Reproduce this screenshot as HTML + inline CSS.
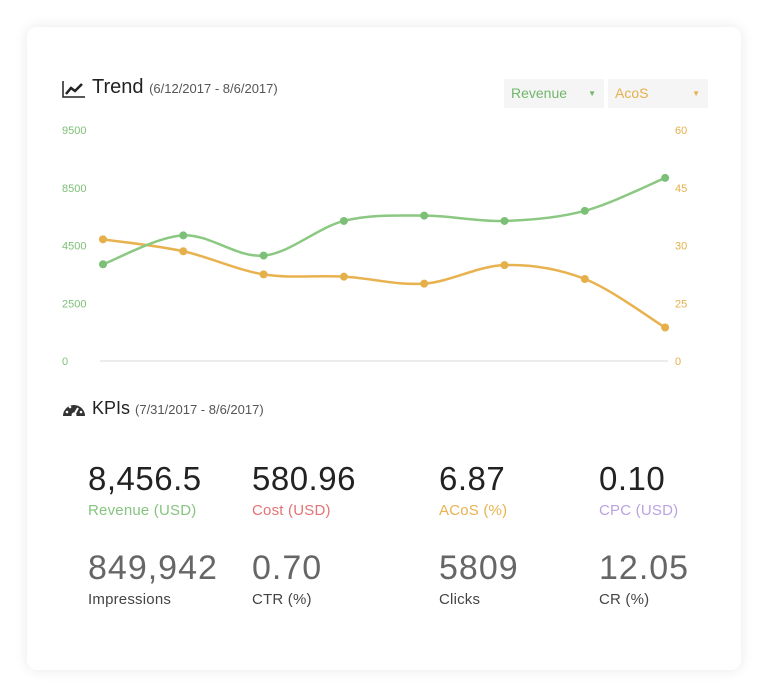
<!DOCTYPE html>
<html><head><meta charset="utf-8"><style>
body{margin:0;width:768px;height:700px;background:#fff;font-family:"Liberation Sans","DejaVu Sans",sans-serif;position:relative;overflow:hidden}
.card{position:absolute;left:27px;top:27px;width:714px;height:643px;background:#fff;border-radius:10px;box-shadow:0 0 14px rgba(0,0,0,0.09)}
.abs{position:absolute;white-space:nowrap}
.dd{position:absolute;top:79px;height:29px;width:100px;background:#f5f5f5;font-size:14px;line-height:29px;box-sizing:border-box;padding-left:7px}
.dd span{position:absolute;right:8px;font-size:8px}
.num{position:absolute;font-size:33px;white-space:nowrap;letter-spacing:0.5px}
.num.r2{font-size:34px;letter-spacing:1px}
.lab{position:absolute;font-size:15px;white-space:nowrap;letter-spacing:0.2px}
</style></head><body>
<div class="card"></div>
<svg class="abs" style="left:62px;top:80px" width="24" height="18"><polyline points="1,1 1,17 23,17" fill="none" stroke="#222" stroke-width="1.5"/><polyline points="4,14 9,8 13,11 20,4" fill="none" stroke="#222" stroke-width="2.5"/></svg>
<div class="abs" style="left:92px;top:76px;font-size:20px;color:#222">Trend <span style="font-size:13px;color:#555">(6/12/2017 - 8/6/2017)</span></div>
<div class="dd" style="left:504px;color:#6fb86a">Revenue<span>▼</span></div>
<div class="dd" style="left:608px;color:#e5b04a">AcoS<span>▼</span></div>
<svg class="abs" style="left:0;top:0" width="768" height="400" id="chart"></svg>
<svg class="abs" style="left:62px;top:400px" width="24" height="18"><path d="M1,16 A11,11 0 0 1 23,16 Z" fill="#333"/><circle cx="12" cy="15" r="2.5" fill="#fff"/><line x1="12" y1="15" x2="16" y2="8" stroke="#fff" stroke-width="2"/><circle cx="5" cy="12" r="1.3" fill="#fff"/><circle cx="8" cy="7" r="1.3" fill="#fff"/><circle cx="19" cy="12" r="1.3" fill="#fff"/></svg>
<div class="abs" style="left:92px;top:398px;font-size:18px;color:#222">KPIs <span style="font-size:13px;color:#555">(7/31/2017 - 8/6/2017)</span></div>
<div class="num" style="left:88px;top:460px;color:#222">8,456.5</div>
<div class="lab" style="left:88px;top:502px;color:#86c47f">Revenue (USD)</div>
<div class="num" style="left:252px;top:460px;color:#222">580.96</div>
<div class="lab" style="left:252px;top:502px;color:#e57373">Cost (USD)</div>
<div class="num" style="left:439px;top:460px;color:#222">6.87</div>
<div class="lab" style="left:439px;top:502px;color:#e8b24f">ACoS (%)</div>
<div class="num" style="left:599px;top:460px;color:#222">0.10</div>
<div class="lab" style="left:599px;top:502px;color:#b9a3e0">CPC (USD)</div>
<div class="num r2" style="left:88px;top:549px;color:#666">849,942</div>
<div class="lab" style="left:88px;top:591px;color:#444">Impressions</div>
<div class="num r2" style="left:252px;top:549px;color:#666">0.70</div>
<div class="lab" style="left:252px;top:591px;color:#444">CTR (%)</div>
<div class="num r2" style="left:439px;top:549px;color:#666">5809</div>
<div class="lab" style="left:439px;top:591px;color:#444">Clicks</div>
<div class="num r2" style="left:599px;top:549px;color:#666">12.05</div>
<div class="lab" style="left:599px;top:591px;color:#444">CR (%)</div>
<script>
const weeks=["6/12","6/19","6/26","7/3","7/10","7/17","7/24","7/31"];
const revenue=[3850,5200,4150,6200,6570,6200,6900,8670];
const acos=[31.6,29.5,27.5,27.3,26.7,28.3,27.1,14.5];
const leftTicks=[0,2500,4500,8500,9500];
const rightTicks=[0,25,30,45,60];
const svg=document.getElementById('chart');
const NS='http://www.w3.org/2000/svg';
const Y0=361,STEP=57.75,X0=103,XW=80.3;
function x(i){return X0+i*XW;}
function yPiece(v,t){for(let k=0;k<t.length-1;k++){if(v<=t[k+1]||k==t.length-2){return Y0-(k+(v-t[k])/(t[k+1]-t[k]))*STEP;}}}
function yL(v){return yPiece(v,leftTicks);}
function yR(v){return yPiece(v,rightTicks);}
function mk(t,a){const e=document.createElementNS(NS,t);for(const k in a)e.setAttribute(k,a[k]);svg.appendChild(e);return e;}
const base=mk('line',{x1:100,x2:668,y1:Y0,y2:Y0,stroke:'#e6e6e6','stroke-width':1.5});


leftTicks.forEach((t,k)=>{const e=mk('text',{x:62,y:Y0-k*STEP+4,'font-size':11,fill:'#7cc077','font-family':'Liberation Sans,sans-serif'});e.textContent=t;

});
rightTicks.forEach((t,k)=>{const e=mk('text',{x:675,y:Y0-k*STEP+4,'font-size':11,fill:'#e5b04a','font-family':'Liberation Sans,sans-serif'});e.textContent=t;

});
function path(vals,yf){const p=vals.map((v,i)=>[x(i),yf(v)]);let d='M'+p[0][0]+','+p[0][1];
for(let i=0;i<p.length-1;i++){const a=p[i-1]||p[i],b=p[i],c=p[i+1],e=p[i+2]||c;
d+=' C'+(b[0]+(c[0]-a[0])/6)+','+(b[1]+(c[1]-a[1])/6)+' '+(c[0]-(e[0]-b[0])/6)+','+(c[1]-(e[1]-b[1])/6)+' '+c[0]+','+c[1];}return d;}
const lr=mk('path',{d:path(acos,yR),fill:'none',stroke:'#e8b24f','stroke-width':2.5});


const lg=mk('path',{d:path(revenue,yL),fill:'none',stroke:'#8bc882','stroke-width':2.5});


revenue.forEach((v,i)=>{const c=mk('circle',{cx:x(i),cy:yL(v),r:4,fill:'#7cc077'});

});
acos.forEach((v,i)=>{const c=mk('circle',{cx:x(i),cy:yR(v),r:4,fill:'#e5b04a'});

});
</script>
</body></html>
